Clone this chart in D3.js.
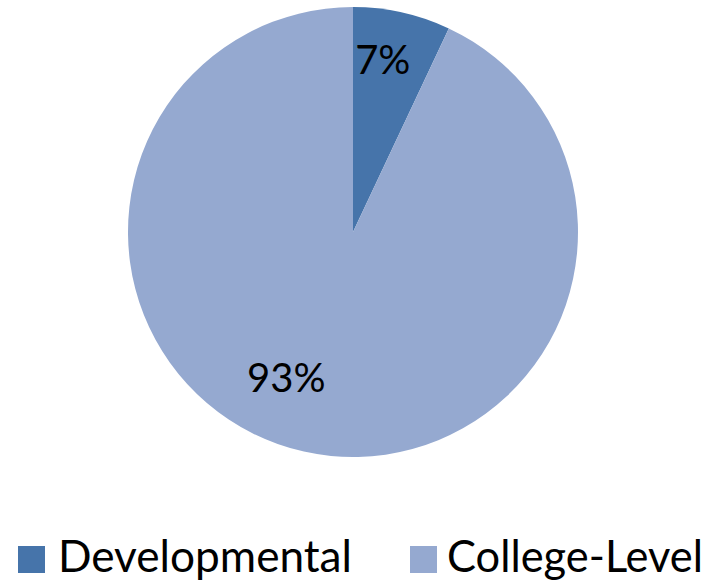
<!DOCTYPE html>
<html>
<head>
<meta charset="utf-8">
<script src="https://cdn.jsdelivr.net/npm/d3@7/dist/d3.min.js"></script>
<style>
  html, body { margin: 0; padding: 0; background: #fff; }
  svg { display: block; }
  text { font-family: Lato, "Open Sans", sans-serif; fill: #000; }
</style>
</head>
<body>
<svg id="chart" width="717" height="581"></svg>
<script>
// Share of sections by course level
const categories = ["Developmental", "College-Level"];
const values = [7, 93];
const labels = ["7%", "93%"];
const colors = ["#4674AA", "#95A9D0"];

const svg = d3.select("#chart");
const cx = 353, cy = 232, radius = 225;

const pie = d3.pie().sort(null).value(d => d.value);
const data = pie(categories.map((c, i) => ({ name: c, value: values[i], label: labels[i], color: colors[i] })));

const arc = d3.arc().innerRadius(0).outerRadius(radius);

const g = svg.append("g").attr("transform", `translate(${cx},${cy})`);

g.selectAll("path.slice")
  .data(data)
  .join("path")
  .attr("class", "slice")
  .attr("d", arc)
  .attr("fill", d => d.data.color);

// Data labels placed along each slice, nudged around the arc
const labelRadius = [176, 160];
const angleShift = [-0.05, 0.21];
g.selectAll("text.val")
  .data(data)
  .join("text")
  .attr("class", "val")
  .attr("transform", (d, i) => {
    const a = (d.startAngle + d.endAngle) / 2 + angleShift[i];
    const r = labelRadius[i];
    return `translate(${Math.sin(a) * r},${-Math.cos(a) * r})`;
  })
  .attr("text-anchor", "middle")
  .attr("dominant-baseline", "central")
  .attr("font-size", 40)
  .text(d => d.data.label);

// Legend
const legendX = [18, 410];
const legendTextW = [294, 256];
const legend = svg.append("g").selectAll("g")
  .data(data)
  .join("g")
  .attr("transform", (d, i) => `translate(${legendX[i]},546)`);

legend.append("rect")
  .attr("width", 27).attr("height", 27)
  .attr("fill", d => d.data.color);

legend.append("text")
  .attr("x", (d, i) => i === 0 ? 40 : 37)
  .attr("y", 26)
  .attr("font-size", 44)
  .attr("textLength", (d, i) => legendTextW[i])
  .attr("lengthAdjust", "spacingAndGlyphs")
  .text(d => d.data.name);
</script>
</body>
</html>
